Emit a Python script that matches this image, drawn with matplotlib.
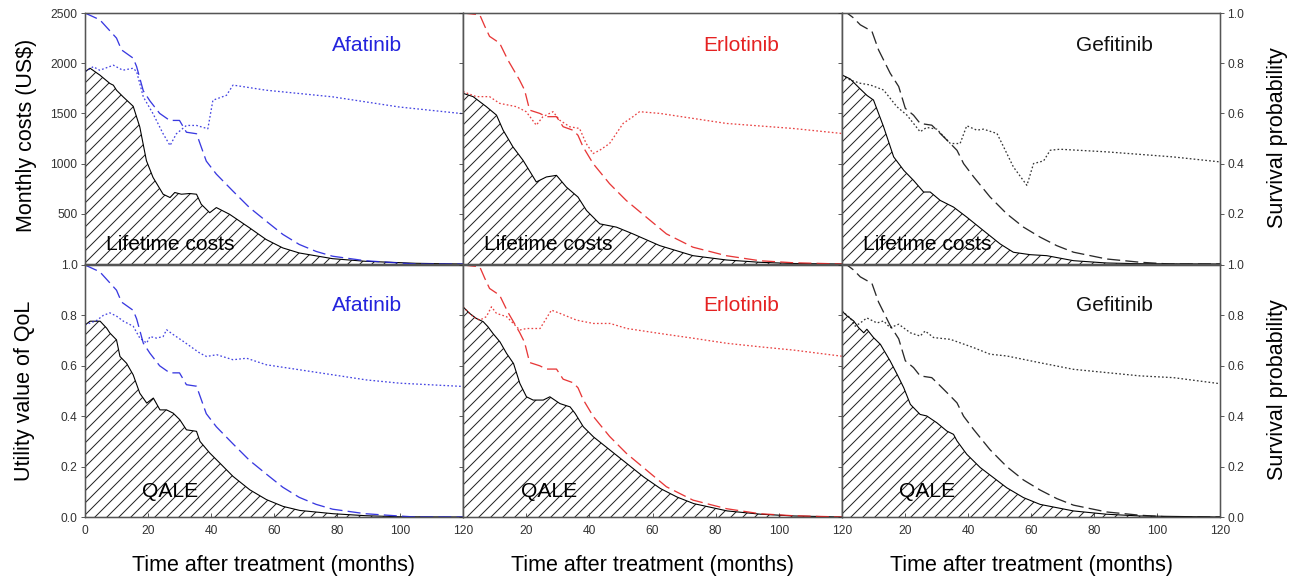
import numpy as np
import matplotlib.pyplot as plt

plt.rcParams['font.family'] = ['Liberation Sans', 'DejaVu Sans']
plt.rcParams['hatch.linewidth'] = 1.0

drugs = ['Afatinib', 'Erlotinib', 'Gefitinib']
drug_colors = ['#2323dd', '#e52222', '#111111']
x_ticks = [0, 20, 40, 60, 80, 100, 120]

# survival probability (dashed), shared by both rows
afa_surv_t = [0, 4.7, 10, 11.6, 15.3, 16.4, 18.5, 20.6, 23.7, 26.9, 30, 32.2, 35.4, 38.5, 41.7, 47, 52.2, 57.5, 62.8, 68, 73.4, 78.6, 89, 99.7, 105, 120]
afa_surv = [1.0, 0.973, 0.90, 0.853, 0.82, 0.786, 0.69, 0.65, 0.60, 0.572, 0.572, 0.525, 0.519, 0.41, 0.358, 0.29, 0.225, 0.171, 0.118, 0.078, 0.05, 0.031, 0.013, 0.004, 0.0, 0.0]
erl_surv_t = [0, 5.3, 6.9, 8.4, 11.6, 14.2, 17.9, 19.5, 21.1, 24.3, 26.4, 29.6, 31.7, 34.8, 36.4, 38, 41.2, 46.4, 51.7, 58, 64.4, 72.8, 83.4, 94, 104.5, 120]
erl_surv = [1.0, 0.993, 0.947, 0.907, 0.88, 0.813, 0.733, 0.693, 0.613, 0.60, 0.587, 0.587, 0.547, 0.533, 0.513, 0.467, 0.40, 0.32, 0.253, 0.187, 0.12, 0.067, 0.033, 0.013, 0.005, 0.0]
gef_surv_t = [0, 1.6, 3.7, 5.8, 9.5, 11.6, 15.3, 18, 20.1, 22.7, 24.8, 28.5, 31.2, 34.4, 36.5, 38.6, 41.8, 47, 52.3, 57.6, 62.9, 68.2, 73.5, 84, 94.6, 104, 120]
gef_surv = [1.0, 1.0, 0.98, 0.953, 0.927, 0.853, 0.76, 0.707, 0.62, 0.593, 0.56, 0.553, 0.52, 0.48, 0.453, 0.40, 0.347, 0.267, 0.20, 0.147, 0.107, 0.073, 0.047, 0.02, 0.007, 0.0, 0.0]

# monthly costs (dotted, top row)
afa_cost_t = [0, 2.6, 4.7, 9, 12, 15.3, 16.4, 18.5, 21.6, 24.8, 27, 29, 32.2, 35.4, 39, 40.6, 44.9, 47, 57.5, 78.6, 99.7, 120]
afa_cost = [1915, 1965, 1930, 1980, 1930, 1950, 1915, 1665, 1497, 1297, 1180, 1297, 1380, 1380, 1347, 1631, 1680, 1782, 1731, 1665, 1564, 1497]
erl_cost_t = [0, 4.2, 8.4, 11.6, 16.9, 20, 23.2, 25.3, 28.5, 30.6, 33.8, 36.9, 39, 41.2, 43.3, 46.4, 50.7, 53.8, 55.9, 62.3, 83.4, 104.5, 120]
erl_cost = [1717, 1667, 1667, 1600, 1567, 1517, 1383, 1467, 1517, 1433, 1367, 1350, 1200, 1100, 1133, 1200, 1400, 1467, 1517, 1500, 1400, 1350, 1300]
gef_cost_t = [0, 2.6, 5.8, 9, 13.2, 17.4, 20.6, 24.8, 26.9, 30.1, 34.4, 37.5, 39.6, 42.8, 44.9, 49.2, 51.3, 54.4, 58.7, 60.8, 64, 66.1, 69.2, 84, 105, 120]
gef_cost = [1883, 1833, 1800, 1783, 1733, 1567, 1483, 1317, 1360, 1343, 1200, 1200, 1377, 1333, 1343, 1300, 1167, 967, 783, 1000, 1027, 1133, 1143, 1117, 1067, 1017]

# lifetime costs (hatched, top row)
afa_lc_t = [0, 1.6, 4.7, 7.9, 9, 10, 12.1, 15.3, 17.4, 19.5, 21.6, 24.8, 27, 28.5, 30.6, 33.2, 35.4, 36.9, 39.6, 41.7, 45.9, 52.2, 57.5, 62.8, 68, 78.6, 89, 105, 120]
afa_lc = [1915, 1950, 1882, 1798, 1781, 1731, 1665, 1571, 1364, 1029, 862, 695, 662, 712, 695, 702, 695, 595, 511, 562, 495, 361, 244, 160, 110, 53, 27, 7, 0]
erl_lc_t = [0, 3.2, 7.4, 10.6, 12.7, 15.8, 19, 21.6, 23.2, 26.4, 29.6, 32.7, 36.4, 39.1, 43.3, 48.6, 53.8, 62.3, 72.8, 83.4, 94, 104.5, 120]
erl_lc = [1700, 1667, 1567, 1483, 1333, 1167, 1033, 900, 817, 867, 883, 767, 667, 533, 400, 367, 300, 183, 83, 40, 17, 5, 0]
gef_lc_t = [0, 2.6, 5.8, 8, 10, 13.2, 16.4, 19.6, 22.7, 25.9, 28, 31.2, 35.4, 39.6, 44.9, 50.2, 54.4, 59.7, 65, 73.5, 84, 94, 120]
gef_lc = [1883, 1843, 1743, 1677, 1633, 1367, 1067, 933, 833, 717, 717, 633, 567, 467, 333, 200, 117, 93, 83, 33, 10, 3, 0]

# utility value of QoL (dotted, bottom row)
afa_util_t = [0, 3.7, 5.8, 7.9, 10, 12.2, 15.3, 17.4, 19.6, 20.6, 22.7, 24.8, 25.9, 28, 31.2, 36.5, 38.6, 41.8, 47, 51.3, 57.6, 68.2, 78.8, 89.3, 99.9, 120]
afa_util = [0.762, 0.78, 0.80, 0.81, 0.797, 0.777, 0.757, 0.71, 0.69, 0.716, 0.71, 0.716, 0.743, 0.724, 0.697, 0.65, 0.637, 0.644, 0.624, 0.63, 0.604, 0.584, 0.564, 0.544, 0.531, 0.518]
erl_util_t = [0, 3.2, 5.3, 7.4, 9, 10.6, 13.8, 18, 20.1, 24.4, 28, 30.7, 36, 41.3, 46.6, 51.9, 62.5, 73.1, 83.7, 94.3, 104.9, 120]
erl_util = [0.834, 0.795, 0.781, 0.795, 0.834, 0.808, 0.795, 0.742, 0.748, 0.748, 0.821, 0.808, 0.781, 0.768, 0.768, 0.748, 0.728, 0.709, 0.689, 0.675, 0.662, 0.638]
gef_util_t = [0, 2.6, 4.2, 5.8, 7.9, 11.1, 13.2, 15.3, 18, 21.7, 24.8, 26.4, 29.1, 34.4, 41.8, 47, 52.3, 62.9, 73.5, 84, 94.6, 105.2, 120]
gef_util = [0.817, 0.79, 0.757, 0.77, 0.79, 0.77, 0.778, 0.751, 0.765, 0.731, 0.718, 0.738, 0.712, 0.705, 0.672, 0.646, 0.639, 0.612, 0.586, 0.573, 0.56, 0.553, 0.529]

# QALE (hatched, bottom row)
afa_qale_t = [0, 1.6, 4.8, 6.9, 7.9, 10, 11.1, 13.2, 15.3, 17.4, 19.6, 21.7, 23.8, 25.9, 28, 30.1, 32.2, 35.4, 36.5, 39.6, 42.8, 47, 52.3, 57.6, 62.9, 68.2, 78.8, 89.3, 99.9, 120]
afa_qale = [0.762, 0.777, 0.777, 0.749, 0.73, 0.703, 0.637, 0.61, 0.564, 0.491, 0.452, 0.472, 0.425, 0.425, 0.412, 0.386, 0.346, 0.34, 0.30, 0.254, 0.214, 0.161, 0.108, 0.069, 0.042, 0.026, 0.013, 0.005, 0.001, 0.0]
erl_qale_t = [0, 2.1, 4.2, 6.4, 7.9, 9.5, 11.7, 13.8, 16, 18, 20.1, 22.2, 25.4, 27.5, 30.7, 33.9, 35.5, 38.1, 41.3, 46.6, 51.9, 57.2, 62.5, 67.8, 73.1, 83.7, 94.3, 104.9, 120]
erl_qale = [0.834, 0.808, 0.788, 0.775, 0.755, 0.728, 0.695, 0.649, 0.609, 0.53, 0.477, 0.464, 0.464, 0.477, 0.45, 0.437, 0.411, 0.358, 0.318, 0.265, 0.212, 0.159, 0.113, 0.079, 0.053, 0.024, 0.011, 0.004, 0.0]
gef_qale_t = [0, 1.6, 3.7, 5.3, 6.9, 7.9, 10, 12.2, 15.3, 17.5, 19.6, 21.7, 24.8, 26.9, 30.1, 33.3, 35.4, 36.5, 39.6, 43.9, 48.1, 52.3, 57.6, 62.9, 73.5, 84, 94.6, 120]
gef_qale = [0.817, 0.798, 0.778, 0.751, 0.731, 0.745, 0.712, 0.685, 0.619, 0.566, 0.513, 0.447, 0.407, 0.401, 0.374, 0.341, 0.328, 0.302, 0.249, 0.196, 0.156, 0.116, 0.077, 0.05, 0.024, 0.011, 0.004, 0.0]

surv = [(afa_surv_t, afa_surv), (erl_surv_t, erl_surv), (gef_surv_t, gef_surv)]
cost = [(afa_cost_t, afa_cost), (erl_cost_t, erl_cost), (gef_cost_t, gef_cost)]
lcost = [(afa_lc_t, afa_lc), (erl_lc_t, erl_lc), (gef_lc_t, gef_lc)]
util = [(afa_util_t, afa_util), (erl_util_t, erl_util), (gef_util_t, gef_util)]
qale = [(afa_qale_t, afa_qale), (erl_qale_t, erl_qale), (gef_qale_t, gef_qale)]

W, H = 1299, 582
fig = plt.figure(figsize=(W / 72, H / 72), dpi=72)

def box(x0, y0, x1, y1):
    return [x0 / W, 1 - y1 / H, (x1 - x0) / W, (y1 - y0) / H]

def ftext(x, y, s, **kw):
    fig.text(x / W, 1 - y / H, s, **kw)

col_x = [(85, 463), (463, 842), (842, 1220)]
row_y = [(13, 264), (265, 517)]
spine_col = '#555555'

for r in range(2):
    for c in range(3):
        x0, x1 = col_x[c]
        y0, y1 = row_y[r]
        ax = fig.add_axes(box(x0, y0, x1, y1))
        ax2 = ax.twinx()
        col = drug_colors[c]

        if r == 0:
            t, v = lcost[c]
            td, vd = cost[c]
            ax.set_ylim(0, 2500)
            ax.set_yticks([500, 1000, 1500, 2000, 2500])
            label = 'Lifetime costs'
            ly = 0.076
        else:
            t, v = qale[c]
            td, vd = util[c]
            ax.set_ylim(0, 1.0)
            ax.set_yticks([0.0, 0.2, 0.4, 0.6, 0.8, 1.0])
            ax.set_yticklabels(['0.0', '0.2', '0.4', '0.6', '0.8', '1.0'])
            label = 'QALE'
            ly = 0.10

        ax.fill_between(t, v, 0, facecolor='none', edgecolor='#222222', hatch='//', linewidth=0)
        ax.plot(t, v, color='black', lw=1.1)
        ax.plot(td, vd, color=col, lw=1.3, dashes=(1.3, 1.7), alpha=0.85)

        st, sv = surv[c]
        ax2.plot(st, sv, color=col, lw=1.3, dashes=(10, 4), alpha=0.9)
        ax2.set_ylim(0, 1.0)

        ax.set_xlim(0, 120)
        ax.set_xticks(x_ticks)
        if r == 1:
            labs = [str(m) for m in x_ticks]
            if c > 0:
                labs[0] = ''
            ax.set_xticklabels(labs)
        else:
            ax.set_xticklabels([])
        ax.tick_params(axis='x', direction='in', length=4, labelsize=12, colors='#333333', pad=8,
                       bottom=(r == 1))

        ax.tick_params(axis='y', direction='out', length=4, labelsize=12, colors='#333333',
                       labelleft=(c == 0))
        if c == 2:
            if r == 0:
                ax2.set_yticks([0.2, 0.4, 0.6, 0.8, 1.0])
            else:
                ax2.set_yticks([0.0, 0.2, 0.4, 0.6, 0.8, 1.0])
            ax2.set_yticklabels([f'{x:.1f}' for x in ax2.get_yticks()])
            ax2.tick_params(axis='y', direction='out', length=4, labelsize=12, colors='#333333')
        else:
            ax2.set_yticks([])

        for a in (ax, ax2):
            for s in a.spines.values():
                s.set_color(spine_col)
                s.set_linewidth(1.3)

        ax.text(0.745 - 0.012 * c, 0.872 if r == 0 else 0.839, drugs[c], transform=ax.transAxes,
                ha='center', va='center', fontsize=21, color=col)
        ax.text(0.226, ly, label, transform=ax.transAxes, ha='center', va='center',
                fontsize=21, color='black')

ftext(27, 135, 'Monthly costs (US$)', rotation=90, ha='center', va='center', fontsize=21.5)
ftext(25, 391, 'Utility value of QoL', rotation=90, ha='center', va='center', fontsize=21.5)
ftext(1277, 138, 'Survival probability', rotation=90, ha='center', va='center', fontsize=21.5)
ftext(1277, 390, 'Survival probability', rotation=90, ha='center', va='center', fontsize=21.5)
for x0, x1 in col_x:
    ftext((x0 + x1) / 2, 566, 'Time after treatment (months)', ha='center', va='center', fontsize=21.5)

fig.savefig('out.png', dpi=72)
